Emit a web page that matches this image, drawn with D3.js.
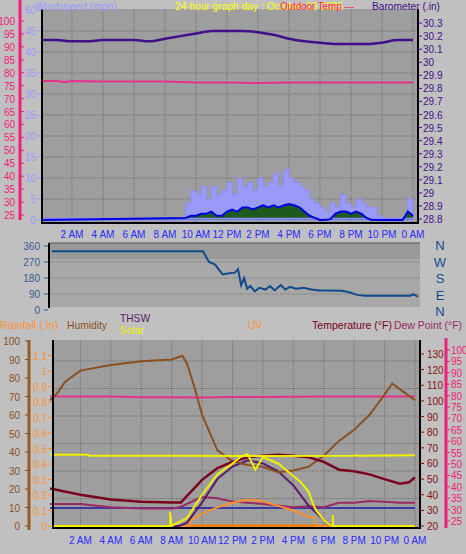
<!DOCTYPE html>
<html><head><meta charset="utf-8">
<script src="https://cdn.jsdelivr.net/npm/d3@7"></script>
<style>
body{margin:0;background:#c0c0c0;}
text{font-family:"Liberation Sans",Arial,sans-serif;}
</style></head>
<body><svg width="466" height="554"></svg>
<script>
var svg = d3.select('svg');

// ---- data ----
var timeTicks = [2, 4, 6, 8, 10, 12, 14, 16, 18, 20, 22, 24];
var timeLabels = ['2 AM', '4 AM', '6 AM', '8 AM', '10 AM', '12 PM', '2 PM', '4 PM', '6 PM', '8 PM', '10 PM', '0 AM'];

var baroT = [0, 1, 2, 3, 4, 5, 6, 7, 8, 9, 10, 11, 12, 13, 14, 15, 16, 17, 18, 19, 20, 21, 22, 23, 24];
var baroV = [30.17, 30.17, 30.16, 30.16, 30.17, 30.17, 30.17, 30.16, 30.18, 30.20, 30.22, 30.24, 30.24, 30.24, 30.23, 30.21, 30.18, 30.16, 30.15, 30.14, 30.14, 30.14, 30.15, 30.17, 30.17];
var outTempT = [0, 1, 1.5, 2, 4, 6, 8, 10, 12, 14, 16, 18, 20, 22, 24];
var outTempV = [76.8, 76.8, 76.4, 76.8, 76.6, 76.6, 76.6, 76.2, 76.2, 76.0, 76.2, 76.2, 76.2, 76.2, 76.2];

var windT = [0, 9.33, 9.67, 10, 10.33, 10.67, 11, 11.33, 11.67, 12, 12.33, 12.67, 13, 13.33, 13.67, 14, 14.33, 14.67, 15, 15.33, 15.67, 16, 16.33, 16.67, 17, 17.33, 17.67, 18, 18.33, 18.67, 19, 19.33, 19.67, 20, 20.33, 20.67, 21, 21.33, 21.67, 22, 23.33, 23.67, 24];
var gustV = [0, 4, 7, 6, 8, 5, 8, 6, 7, 9, 6, 10, 8, 9, 7, 10, 8, 9, 11, 8, 12, 10, 9, 8, 7, 5, 4, 3, 2, 4, 3, 6, 4, 3, 5, 4, 3, 3, 1, 0, 0, 5, 3];
var avgV = [0, 0.5, 1, 1, 1.5, 1.5, 2, 1, 1, 2, 2.5, 2, 3, 3, 2.5, 3, 3.5, 3, 3.5, 3, 3.5, 3.8, 3.5, 3, 2, 1, 0.5, 0, 0, 0.2, 1.5, 2, 2, 1.5, 2, 1.5, 0.5, 0, 0, 0, 0, 2, 1];

var dirT = [0, 9.9, 10.1, 10.3, 10.7, 11, 11.2, 11.5, 12, 12.2, 12.4, 12.6, 12.8, 13, 13.3, 13.6, 14, 14.3, 14.6, 15, 15.3, 15.6, 16, 16.5, 17, 17.5, 18, 19, 19.5, 20, 20.5, 23.5, 23.7, 24];
var dirV = [330, 330, 300, 270, 255, 220, 200, 205, 210, 230, 140, 180, 120, 135, 105, 125, 115, 135, 110, 140, 115, 130, 120, 125, 115, 110, 110, 108, 100, 85, 80, 80, 88, 75];
var compass = ['N', 'W', 'S', 'E', 'N'];

var humT = [0, 0.5, 1, 2, 4, 6, 8, 8.7, 9, 9.5, 10, 11, 12, 13, 14, 15, 16, 17, 18, 19, 20, 21, 22, 22.5, 23, 24];
var humV = [68, 72, 78, 84, 87, 89, 90, 92, 88, 75, 60, 41, 35, 33, 32, 29, 30, 32, 38, 46, 52, 60, 71, 77, 74, 68];
var tempT = [0, 2, 4, 6, 8, 8.6, 10, 11, 12, 13, 14, 15, 16, 17, 18, 19, 20, 21, 22, 23, 23.6, 24];
var tempV = [44, 40, 37, 35.5, 35, 35, 49.5, 57, 61, 64, 65, 65.5, 65, 64, 61, 56, 55, 53, 50, 47, 48, 51];
var dewT = [0, 2, 4, 6, 8, 8.5, 9.5, 10, 11, 12, 13, 14, 16, 17, 18, 19, 20, 21, 22, 23, 24];
var dewV = [32.5, 32.5, 31, 30.5, 30.5, 31, 34, 35.5, 35, 33.5, 33, 32.5, 31, 31.5, 31, 33, 33, 33.8, 33.4, 33, 33];
var pinkT = [0, 4, 6, 8, 10, 12, 14, 16, 18, 20, 22, 24];
var pinkV = [79.6, 79.6, 79.3, 79.3, 79.2, 79.4, 79.4, 79.5, 79.6, 79.6, 79.6, 79.6];
var blueV = 30.7;
var thswT = [0, 8.5, 9, 10, 11, 12, 13, 14, 15, 16, 17, 18, 18.5, 24];
var thswV = [20, 20, 22, 35, 50, 58, 62, 60, 55, 46, 33, 24, 20, 20];
var solarT = [0, 7.9, 7.9, 8.0, 9, 10, 11, 12, 12.5, 13, 13.5, 14, 15, 16, 16.5, 17, 17.3, 17.5, 18, 18.5, 18.6, 18.6, 18.6, 24];
var solarV = [20, 20, 29, 20, 25, 40, 53, 60, 64, 66, 56, 64, 60, 52, 48, 42, 34, 30, 24, 20, 20, 27, 20, 20];
var solarHiT = [0, 2.5, 2.6, 8, 14, 20, 20.1, 20.3, 24];
var solarHiV = [65.6, 65.6, 65, 65, 64.8, 65, 65.3, 65, 65.2];
var uvT = [0, 9.2, 9.3, 10, 11, 12, 13, 14, 15, 16, 17, 17.4, 17.5, 24];
var uvV = [0, 0, 0.04, 0.08, 0.12, 0.15, 0.17, 0.16, 0.13, 0.10, 0.06, 0.05, 0, 0];

// ---- scales ----
var xTop = d3.scaleLinear().domain([0, 24]).range([41, 413]);
var xMid = d3.scaleLinear().domain([0, 24]).range([52, 418]);
var xBot = d3.scaleLinear().domain([0, 24]).range([50, 415]);

var yWind = d3.scaleLinear().domain([0, 50]).range([220, 10]);
var yOut = d3.scaleLinear().domain([25, 100]).range([215, 21]);
var yBaro = d3.scaleLinear().domain([28.8, 30.4]).range([219, 10]);
var yDir = d3.scaleLinear().domain([0, 360]).range([310, 246]);
var yHum = d3.scaleLinear().domain([0, 100]).range([526, 341]);
var yRain = d3.scaleLinear().domain([0, 1.2]).range([526, 340]);
var yTemp = d3.scaleLinear().domain([20, 130]).range([526, 354]);
var yDew = d3.scaleLinear().domain([25, 100]).range([521, 350]);

function pts(t, v) { return t.map(function(d, i) { return [d, v[i]]; }); }
function path(g, data, x, y, color, w, curve) {
  g.append('path').datum(data)
    .attr('d', d3.line().x(function(d) { return x(d[0]); }).y(function(d) { return y(d[1]); }).curve(curve || d3.curveLinear))
    .attr('fill', 'none').attr('stroke', color).attr('stroke-width', w);
}
function label(txt, x, y, color, anchor, size, len) {
  var t = svg.append('text').attr('x', x).attr('y', y).attr('fill', color)
    .attr('font-size', size || 11).attr('text-anchor', anchor || 'start').text(txt);
  if (len) t.attr('textLength', len).attr('lengthAdjust', 'spacingAndGlyphs');
}
function vAxis(scale, vals, xPos, side, color, fmt, labelX, anchor) {
  var g = svg.append('g');
  vals.forEach(function(v) {
    var y = scale(v);
    g.append('line').attr('x1', xPos).attr('x2', xPos + side * 4).attr('y1', y).attr('y2', y).attr('stroke', color);
    g.append('text').attr('x', labelX).attr('y', y + 4).attr('fill', color).attr('font-size', 10)
      .attr('text-anchor', anchor).text(fmt(v));
  });
}

// ---- top panel ----
svg.append('rect').attr('x', 41).attr('y', 9).attr('width', 377).attr('height', 214).attr('fill', '#9e9e9e');
var topG = svg.append('g');
d3.range(5, 50, 5).forEach(function(v) {
  topG.append('line').attr('x1', 41).attr('x2', 418).attr('y1', yWind(v)).attr('y2', yWind(v))
    .attr('stroke', '#6e6e6e').attr('stroke-dasharray', '1,1');
});
timeTicks.forEach(function(t) {
  topG.append('line').attr('x1', xTop(t)).attr('x2', xTop(t)).attr('y1', 9).attr('y2', 223)
    .attr('stroke', '#6e6e6e').attr('stroke-dasharray', '1,1');
});
topG.append('path').datum(pts(windT, gustV))
  .attr('d', d3.area().x(function(d) { return xTop(d[0]); }).y0(yWind(0)).y1(function(d) { return yWind(d[1]); }).curve(d3.curveStepAfter))
  .attr('fill', '#9a9af8').attr('stroke', '#8c8cff').attr('stroke-width', 1);
topG.append('path').datum(pts(windT, avgV))
  .attr('d', d3.area().x(function(d) { return xTop(d[0]); }).y0(yWind(0)).y1(function(d) { return yWind(d[1]); }))
  .attr('fill', '#1e5a1e');
path(topG, pts([0, 24], [0.3, 0.3]), xTop, yWind, '#8c8cff', 2);
path(topG, pts(windT, avgV), xTop, yWind, '#0000e0', 2);
path(topG, pts(outTempT, outTempV), xTop, yOut, '#e8308a', 2);
path(topG, pts(baroT, baroV), xTop, yBaro, '#40108a', 2.5, d3.curveMonotoneX);
svg.append('line').attr('x1', 42).attr('x2', 42).attr('y1', 9).attr('y2', 224).attr('stroke', '#000').attr('stroke-width', 2);
svg.append('line').attr('x1', 41).attr('x2', 418).attr('y1', 223).attr('y2', 223).attr('stroke', '#000').attr('stroke-width', 2);
svg.append('line').attr('x1', 418).attr('x2', 418).attr('y1', 9).attr('y2', 224).attr('stroke', '#000').attr('stroke-width', 2);
timeTicks.forEach(function(t, i) { label(timeLabels[i], xTop(t), 238, '#2a2aff', 'middle', 10); });

svg.append('line').attr('x1', 20).attr('x2', 20).attr('y1', 0).attr('y2', 220).attr('stroke', '#f0207a').attr('stroke-width', 3);
vAxis(yOut, d3.range(25, 101, 5), 20, 1, '#f0207a', function(v) { return v; }, 15, 'end');
vAxis(yWind, d3.range(0, 51, 5), 41, -1, '#9a9aff', function(v) { return v; }, 36, 'end');
vAxis(yBaro, d3.range(28.8, 30.35, 0.1), 418, 1, '#40108a', function(v) { return (+v.toFixed(1)).toString(); }, 423, 'start');
label('Windspeed (mph)', 35, 10, '#9a9aff', 'start', 11, 82);
label('24 hour graph day : October 23 2025', 175, 10, '#ffff00', 'start', 11, 168);
label('Outdoor Temp ---', 280, 10, '#ff2060', 'start', 11, 74);
label('Barometer (.in)', 372, 10, '#40108a', 'start', 11, 68);

// ---- middle panel ----
svg.append('rect').attr('x', 48).attr('y', 243).attr('width', 372).attr('height', 64).attr('fill', '#a8a8a8');
svg.append('rect').attr('x', 48).attr('y', 243).attr('width', 372).attr('height', 16).attr('fill', '#9a9a9a');
var mid = svg.append('g');
[90, 180, 270].forEach(function(v) {
  mid.append('line').attr('x1', 48).attr('x2', 420).attr('y1', yDir(v)).attr('y2', yDir(v))
    .attr('stroke', '#777').attr('stroke-dasharray', '1,1');
});
path(mid, pts(dirT, dirV), xMid, yDir, '#104c8c', 2);
svg.append('line').attr('x1', 49).attr('x2', 49).attr('y1', 243).attr('y2', 308).attr('stroke', '#000').attr('stroke-width', 2);
svg.append('line').attr('x1', 48).attr('x2', 420).attr('y1', 243).attr('y2', 243).attr('stroke', '#555').attr('stroke-width', 1);
vAxis(yDir, [0, 90, 180, 270, 360], 48, -1, '#3a5a90', function(v) { return v; }, 40, 'end');
compass.forEach(function(c, i) { label(c, 440, 250 + i * 16.5, '#104c8c', 'middle', 13); });

// ---- bottom panel ----
svg.append('rect').attr('x', 52).attr('y', 340).attr('width', 368).attr('height', 188).attr('fill', '#9e9e9e');
var bot = svg.append('g');
d3.range(1, 7).forEach(function(k) {
  var y = 526 - k * 27.5;
  bot.append('line').attr('x1', 52).attr('x2', 420).attr('y1', y).attr('y2', y)
    .attr('stroke', '#6e6e6e').attr('stroke-dasharray', '1,1');
});
timeTicks.forEach(function(t) {
  bot.append('line').attr('x1', xBot(t)).attr('x2', xBot(t)).attr('y1', 340).attr('y2', 528)
    .attr('stroke', '#6e6e6e').attr('stroke-dasharray', '1,1');
});
path(bot, pts([0, 24], [blueV, blueV]), xBot, yDew, '#3a3aa0', 2);
path(bot, pts(pinkT, pinkV), xBot, yDew, '#e8308a', 2);
path(bot, pts(dewT, dewV), xBot, yDew, '#9a2a64', 2);
path(bot, pts([0, 24], [0, 0]), xBot, yRain, '#c8c000', 2);
path(bot, pts([9, 18.5], [0, 0]), xBot, yRain, '#ff8000', 3);
path(bot, pts(uvT, uvV), xBot, yRain, '#ff9030', 2);
path(bot, pts(thswT, thswV), xBot, yTemp, '#5a1a6a', 2);
path(bot, pts(humT, humV), xBot, yHum, '#8a5020', 2);
path(bot, pts(tempT, tempV), xBot, yTemp, '#7a0020', 2.5);
path(bot, pts(solarHiT, solarHiV), xBot, yTemp, '#f0f000', 2);
path(bot, pts(solarT, solarV), xBot, yTemp, '#f0f000', 2);
svg.append('line').attr('x1', 53).attr('x2', 53).attr('y1', 340).attr('y2', 529).attr('stroke', '#000').attr('stroke-width', 2);
svg.append('line').attr('x1', 52).attr('x2', 420).attr('y1', 528).attr('y2', 528).attr('stroke', '#000').attr('stroke-width', 2);
svg.append('line').attr('x1', 420).attr('x2', 420).attr('y1', 340).attr('y2', 529).attr('stroke', '#000').attr('stroke-width', 2);
timeTicks.forEach(function(t, i) { label(timeLabels[i], xBot(t), 544, '#2a2aff', 'middle', 10); });

svg.append('line').attr('x1', 29).attr('x2', 29).attr('y1', 340).attr('y2', 530).attr('stroke', '#9a5a20').attr('stroke-width', 3);
vAxis(yHum, d3.range(0, 101, 10), 29, -1, '#8a5020', function(v) { return v; }, 20, 'end');
vAxis(yRain, d3.range(0, 1.15, 0.1), 52, -1, '#ff9030', function(v) { return (+v.toFixed(1)).toString(); }, 47, 'end');
vAxis(yTemp, d3.range(20, 131, 10), 420, 1, '#8a1010', function(v) { return v; }, 427, 'start');
svg.append('line').attr('x1', 446).attr('x2', 446).attr('y1', 338).attr('y2', 528).attr('stroke', '#f0207a').attr('stroke-width', 3);
vAxis(yDew, d3.range(25, 101, 5), 446, 1, '#f0207a', function(v) { return v; }, 451, 'start');

label('Rainfall (.in)', 0, 329, '#ff9030', 'start', 11, 58);
label('Humidity', 67, 329, '#8a5020', 'start', 11, 40);
label('THSW', 120, 322, '#5a1a6a', 'start', 11, 30);
label('Solar', 120, 334, '#f0f000', 'start', 11, 24);
label('UV', 248, 329, '#ff9030', 'start', 11, 14);
label('Temperature (°F)', 312, 329, '#7a0020', 'start', 11, 80);
label('Dew Point (°F)', 394, 329, '#9a2a64', 'start', 11, 68);
</script></body></html>
